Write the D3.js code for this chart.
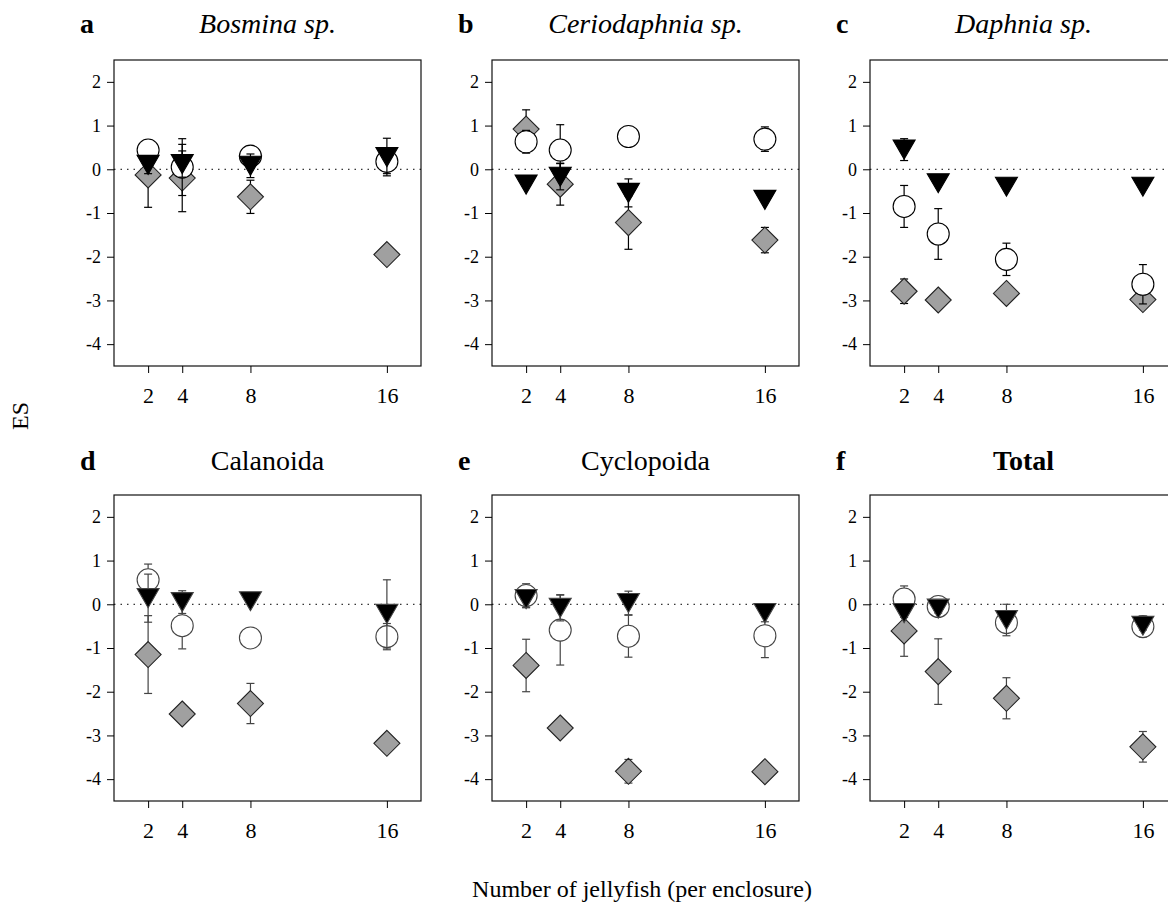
<!DOCTYPE html>
<html>
<head>
<meta charset="utf-8">
<script src="https://cdn.jsdelivr.net/npm/d3@7"></script>
<style>
  body { margin: 0; background: #fff; }
  svg { display: block; font-family: "Liberation Serif", "Times New Roman", serif; }
</style>
</head>
<body>
<svg id="chart" width="1168" height="904"></svg>
<script>
// zooplankton effect sizes by jellyfish density
const densities = [2, 4, 8, 16];
const yTicks = [-4, -3, -2, -1, 0, 1, 2];
const letters = ['a', 'b', 'c', 'd', 'e', 'f'];
const titles = ['Bosmina sp.', 'Ceriodaphnia sp.', 'Daphnia sp.', 'Calanoida', 'Cyclopoida', 'Total'];

// grey diamonds
const diamondES = [
  [-0.13, -0.2, -0.63, -1.95],
  [0.92, -0.34, -1.22, -1.62],
  [-2.79, -2.99, -2.84, -2.98],
  [-1.15, -2.51, -2.27, -3.18],
  [-1.4, -2.83, -3.82, -3.83],
  [-0.61, -1.54, -2.15, -3.26]
];
const diamondErr = [
  [0.74, 0.77, 0.38, 0],
  [0.44, 0.48, 0.61, 0.29],
  [0.28, 0, 0, 0],
  [0.89, 0, 0.46, 0],
  [0.6, 0, 0.27, 0],
  [0.58, 0.75, 0.47, 0.35]
];
// open circles
const circleES = [
  [0.44, 0.05, 0.3, 0.18],
  [0.63, 0.44, 0.75, 0.69],
  [-0.85, -1.48, -2.06, -2.63],
  [0.56, -0.49, -0.77, -0.74],
  [0.2, -0.59, -0.73, -0.72],
  [0.12, -0.05, -0.42, -0.51]
];
const circleErr = [
  [0.1, 0.65, 0.05, 0.28],
  [0.26, 0.58, 0, 0.28],
  [0.48, 0.58, 0.37, 0.45],
  [0.36, 0.53, 0, 0.3],
  [0.27, 0.8, 0.48, 0.5],
  [0.3, 0.16, 0, 0.24]
];
// black down triangles
const triangleES = [
  [0.1, 0.12, 0.08, 0.28],
  [-0.35, -0.17, -0.54, -0.7],
  [0.45, -0.32, -0.4, -0.4],
  [0.14, 0.05, 0.07, -0.22],
  [0.12, -0.08, 0.03, -0.2],
  [-0.2, -0.1, -0.36, -0.49]
];
const triangleErr = [
  [0.2, 0.3, 0.27, 0.43],
  [0, 0.3, 0.32, 0],
  [0.25, 0, 0, 0],
  [0.55, 0.26, 0, 0.78],
  [0.2, 0.3, 0.27, 0.2],
  [0.1, 0.1, 0.36, 0.1]
];

const svg = d3.select('#chart');
const colLeft = [114, 492, 870];
const rowTop = [60, 495];
const pw = 307, ph = 306;

const series = [
  { es: diamondES, err: diamondErr, kind: 'diamond' },
  { es: circleES, err: circleErr, kind: 'circle' },
  { es: triangleES, err: triangleErr, kind: 'triangle' }
];

const shapes = {
  diamond: 'M0,-13L13,0L0,13L-13,0Z',
  circle: d3.symbol(d3.symbolCircle, Math.PI * 11 * 11)(),
  triangle: 'M-11,-9.5L11,-9.5L0,9.5Z'
};

letters.forEach((letter, i) => {
  const col = i % 3, row = Math.floor(i / 3);
  const left = colLeft[col], top = rowTop[row];
  const ink = row === 0 ? '#000' : '#444';

  const x = d3.scaleLinear().domain([0, 18]).range([left, left + pw]);
  const y = d3.scaleLinear().domain([-4.5, 2.5]).range([top + ph, top]);

  const g = svg.append('g');

  g.append('rect')
    .attr('x', left).attr('y', top)
    .attr('width', pw).attr('height', ph)
    .attr('fill', 'none').attr('stroke', '#111').attr('stroke-width', 1.2);

  const yAxis = g.append('g')
    .attr('transform', `translate(${left},0)`)
    .call(d3.axisLeft(y).tickValues(yTicks).tickSize(7).tickPadding(6))
    .attr('font-family', null).attr('font-size', null);
  yAxis.select('.domain').remove();
  yAxis.selectAll('text').attr('font-size', 18).attr('fill', '#000')
    .text(d => d < 0 ? '-' + Math.abs(d) : d);

  const xAxis = g.append('g')
    .attr('transform', `translate(0,${top + ph})`)
    .call(d3.axisBottom(x).tickValues(densities).tickSize(7).tickPadding(14))
    .attr('font-family', null).attr('font-size', null);
  xAxis.select('.domain').remove();
  xAxis.selectAll('text').attr('font-size', 22).attr('fill', '#000');

  g.append('line')
    .attr('x1', x(0)).attr('x2', x(18))
    .attr('y1', y(0)).attr('y2', y(0))
    .attr('stroke', '#000').attr('stroke-dasharray', '1.5,5');

  series.forEach(s => {
    const pts = densities.map((d, j) => ({ d, m: s.es[i][j], e: s.err[i][j] }));
    const bars = g.selectAll(null).data(pts.filter(p => p.e > 0)).enter().append('g')
      .attr('stroke', ink).attr('stroke-width', 1.2);
    bars.append('line')
      .attr('x1', p => x(p.d)).attr('x2', p => x(p.d))
      .attr('y1', p => y(p.m - p.e)).attr('y2', p => y(p.m + p.e));
    bars.append('line')
      .attr('x1', p => x(p.d) - 4).attr('x2', p => x(p.d) + 4)
      .attr('y1', p => y(p.m + p.e)).attr('y2', p => y(p.m + p.e));
    bars.append('line')
      .attr('x1', p => x(p.d) - 4).attr('x2', p => x(p.d) + 4)
      .attr('y1', p => y(p.m - p.e)).attr('y2', p => y(p.m - p.e));

    g.selectAll(null).data(pts).enter().append('path')
      .attr('d', shapes[s.kind])
      .attr('transform', p => `translate(${x(p.d)},${y(p.m)})`)
      .attr('fill', s.kind === 'diamond' ? '#a0a0a0' : s.kind === 'circle' ? '#fff' : '#000')
      .attr('stroke', s.kind === 'diamond' ? '#222' : ink)
      .attr('stroke-width', 1.1);
  });

  const baseY = row === 0 ? 33 : 470;
  g.append('text')
    .attr('x', left - 34).attr('y', baseY)
    .attr('font-size', 28).attr('font-weight', 'bold')
    .text(letter);
  g.append('text')
    .attr('x', left + pw / 2).attr('y', baseY)
    .attr('text-anchor', 'middle')
    .attr('font-size', 28)
    .attr('font-style', i < 3 ? 'italic' : 'normal')
    .attr('font-weight', i === 5 ? 'bold' : 'normal')
    .text(titles[i]);
});

svg.append('text')
  .attr('transform', 'translate(28,416) rotate(-90)')
  .attr('text-anchor', 'middle')
  .attr('font-size', 24)
  .text('ES');

svg.append('text')
  .attr('x', 642).attr('y', 897)
  .attr('text-anchor', 'middle')
  .attr('font-size', 24)
  .text('Number of jellyfish (per enclosure)');
</script>
</body>
</html>
